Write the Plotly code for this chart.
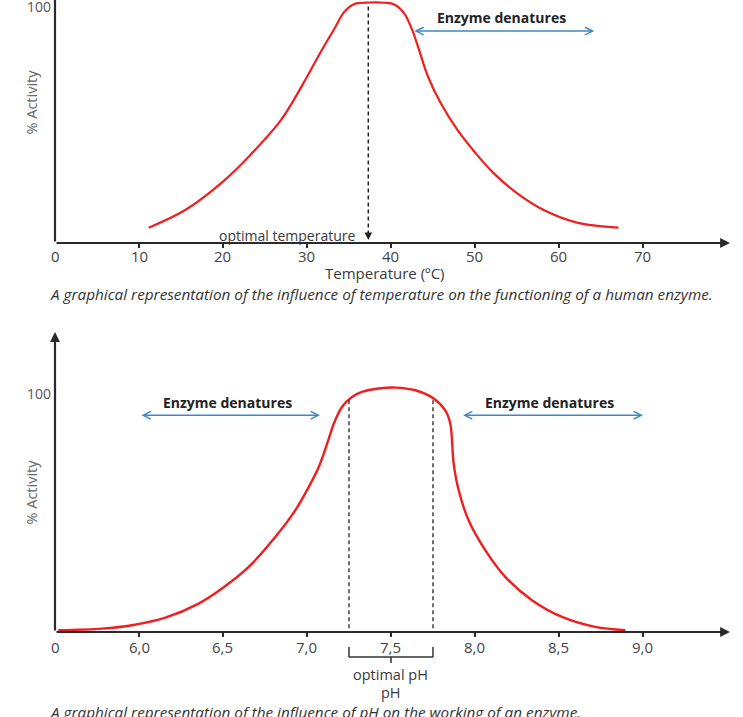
import plotly.graph_objects as go

# ---------------- data ----------------
temp_c = [11.15, 15.5, 19.96, 23.2, 26.96, 30.04, 31.7, 33.28, 34.46, 35.65, 37.5, 39.2, 40.4,
          41.57, 42.5, 43.35, 44.35, 45.93, 47.91, 50.08, 52.24, 55.03, 58.18, 62.14, 67.08]
temp_activity = [6.4, 13.75, 25.5, 36.5, 51.5, 69.5, 80.0, 89.4, 96.4, 99.6, 100.2, 100.1, 99.4,
                 95.7, 89.0, 80.4, 69.8, 58.2, 47.1, 37.4, 29.0, 20.7, 13.75, 8.5, 6.4]
temp_ticks = [0, 10, 20, 30, 40, 50, 60, 70]
temp_ticktext = ["0", "10", "20", "30", "40", "50", "60", "70"]
optimal_temp = 37.3

ph_values = [5.52, 5.78, 5.958, 6.157, 6.355, 6.494, 6.653, 6.811, 6.93, 7.01, 7.07, 7.12, 7.16,
             7.208, 7.268, 7.327, 7.427, 7.526, 7.645, 7.754, 7.823, 7.853, 7.873, 7.903, 7.962,
             8.061, 8.18, 8.339, 8.518, 8.716, 8.895]
ph_activity = [0.7, 1.4, 2.8, 5.9, 11.7, 17.9, 26.8, 39.1, 50.1, 59.7, 68.0, 77.6, 85.9,
               92.7, 96.8, 98.9, 100.3, 100.7, 99.6, 96.2, 91.3, 85.9, 69.4, 58.4, 46.0,
               33.7, 22.7, 13.1, 6.2, 2.1, 0.7]
ph_ticks = [5.5, 6.0, 6.5, 7.0, 7.5, 8.0, 8.5, 9.0]
ph_ticktext = ["0", "6,0", "6,5", "7,0", "7,5", "8,0", "8,5", "9,0"]
optimal_ph_low = 7.25
optimal_ph_high = 7.75
optimal_ph_mid = 7.5

# ---------------- layout helpers ----------------
W, H = 743, 717
def py(Y):
    return 1 - Y / H
def px(X):
    return X / W

FONT = "Open Sans"
AXC = "#2a2a2a"
RED = "#f01e1e"
BLUE = "#3f86c4"
TXT = "#3a3a3a"

x1_range = [0, 80.36]
y1_range = [0, 101.25]
x2_range = [5.5, 9.518]
y2_range = [0, 123.6]

fig = go.Figure()

fig.add_trace(go.Scatter(x=temp_c, y=temp_activity, mode="lines", xaxis="x", yaxis="y",
                         line=dict(color=RED, width=2.2, shape="spline", smoothing=1.0),
                         hoverinfo="skip", showlegend=False))
fig.add_trace(go.Scatter(x=[optimal_temp, optimal_temp], y=[98.5, 4], mode="lines",
                         xaxis="x", yaxis="y",
                         line=dict(color="#222", width=1.5, dash="4px,3px"),
                         hoverinfo="skip", showlegend=False))

fig.add_trace(go.Scatter(x=ph_values, y=ph_activity, mode="lines", xaxis="x2", yaxis="y2",
                         line=dict(color=RED, width=2.4, shape="spline", smoothing=0.9),
                         hoverinfo="skip", showlegend=False))
for xv in [optimal_ph_low, optimal_ph_high]:
    fig.add_trace(go.Scatter(x=[xv, xv], y=[95.5, 0], mode="lines", xaxis="x2", yaxis="y2",
                             line=dict(color="#333", width=1.4, dash="4px,3px"),
                             hoverinfo="skip", showlegend=False))

ann = []
# axes with arrows
ann.append(dict(x=x1_range[1], y=0, ax=0, ay=0, xref="x", yref="y", axref="x", ayref="y",
                showarrow=True, arrowhead=2, arrowsize=0.9, arrowwidth=2.2, arrowcolor=AXC, text=""))
ann.append(dict(x=0, y=y1_range[1], ax=0, ay=0, xref="x", yref="y", axref="x", ayref="y",
                showarrow=True, arrowhead=0, arrowwidth=2.2, arrowcolor=AXC, text=""))
ann.append(dict(x=x2_range[1], y=0, ax=x2_range[0], ay=0, xref="x2", yref="y2", axref="x2", ayref="y2",
                showarrow=True, arrowhead=2, arrowsize=0.9, arrowwidth=2.2, arrowcolor=AXC, text=""))
ann.append(dict(x=x2_range[0], y=y2_range[1], ax=x2_range[0], ay=0, xref="x2", yref="y2", axref="x2", ayref="y2",
                showarrow=True, arrowhead=2, arrowsize=0.9, arrowwidth=2.2, arrowcolor=AXC, text=""))

def label(**kw):
    d = dict(showarrow=False, yanchor="middle")
    d.update(kw)
    ann.append(d)

# tick labels
for v, t in zip(temp_ticks, temp_ticktext):
    label(x=v, y=py(256), xref="x", yref="paper", text=t,
          font=dict(family=FONT, size=15, color="#444"))
for v, t in zip(ph_ticks, ph_ticktext):
    label(x=v, y=py(646.5), xref="x2", yref="paper", text=t,
          font=dict(family=FONT, size=15, color="#444"))
label(x=px(53), y=py(6), xref="paper", yref="paper", text="100", xanchor="right",
      font=dict(family=FONT, size=14, color="#555"))
label(x=px(53), y=py(393), xref="paper", yref="paper", text="100", xanchor="right",
      font=dict(family=FONT, size=14, color="#555"))

# optimal temperature arrow
ann.append(dict(x=optimal_temp, y=1.3, ax=optimal_temp, ay=5, xref="x", yref="y", axref="x", ayref="y",
                showarrow=True, arrowhead=2, arrowsize=1, arrowwidth=1.5, arrowcolor="#222", text=""))
label(x=36.0, y=3.0, xref="x", yref="y", text="optimal temperature", xanchor="right",
      font=dict(family=FONT, size=14, color=TXT))

# enzyme denatures (top)
ann.append(dict(x=64.2, y=88.3, ax=42.6, ay=88.3, xref="x", yref="y", axref="x", ayref="y",
                showarrow=True, arrowhead=5, arrowside="end+start", arrowsize=1, arrowwidth=1.5,
                arrowcolor=BLUE, text=""))
label(x=53.2, y=93.9, xref="x", yref="y", text="<b>Enzyme denatures</b>",
      font=dict(family=FONT, size=14, color="#222"))

# enzyme denatures (bottom)
ann.append(dict(x=7.077, y=89.3, ax=6.006, ay=89.3, xref="x2", yref="y2", axref="x2", ayref="y2",
                showarrow=True, arrowhead=5, arrowside="end+start", arrowsize=1, arrowwidth=1.5,
                arrowcolor=BLUE, text=""))
label(x=6.527, y=94.4, xref="x2", yref="y2", text="<b>Enzyme denatures</b>",
      font=dict(family=FONT, size=14, color="#222"))
ann.append(dict(x=9.0, y=89.3, ax=7.92, ay=89.3, xref="x2", yref="y2", axref="x2", ayref="y2",
                showarrow=True, arrowhead=5, arrowside="end+start", arrowsize=1, arrowwidth=1.5,
                arrowcolor=BLUE, text=""))
label(x=8.446, y=94.4, xref="x2", yref="y2", text="<b>Enzyme denatures</b>",
      font=dict(family=FONT, size=14, color="#222"))

# axis titles and captions
label(x=39.3, y=py(273), xref="x", yref="paper", text="Temperature (ºC)",
      font=dict(family=FONT, size=15, color=TXT))
label(x=px(48), y=py(294), xref="paper", yref="paper", xanchor="left",
      text="<i>A graphical representation of the influence of temperature on the functioning of a human enzyme.</i>",
      font=dict(family=FONT, size=15.3, color="#333"))
label(x=px(19), y=py(102), xref="paper", yref="paper", text="% Activity", textangle=-90,
      font=dict(family=FONT, size=14.5, color="#666"))
label(x=px(19), y=py(492), xref="paper", yref="paper", text="% Activity", textangle=-90,
      font=dict(family=FONT, size=14.5, color="#666"))

label(x=optimal_ph_mid, y=py(674), xref="x2", yref="paper", text="optimal pH",
      font=dict(family=FONT, size=14.5, color=TXT))
label(x=optimal_ph_mid, y=py(692), xref="x2", yref="paper", text="pH",
      font=dict(family=FONT, size=14.5, color=TXT))
label(x=px(48), y=py(712), xref="paper", yref="paper", xanchor="left",
      text="<i>A graphical representation of the influence of pH on the working of an enzyme.</i>",
      font=dict(family=FONT, size=15.3, color="#333"))

# bracket for optimal pH
shapes = [
    dict(type="line", xref="x2", yref="paper", x0=optimal_ph_low, x1=optimal_ph_low, y0=py(647), y1=py(657),
         line=dict(color="#333", width=1.5)),
    dict(type="line", xref="x2", yref="paper", x0=optimal_ph_high, x1=optimal_ph_high, y0=py(647), y1=py(657),
         line=dict(color="#333", width=1.5)),
    dict(type="line", xref="x2", yref="paper", x0=optimal_ph_low, x1=optimal_ph_high, y0=py(657), y1=py(657),
         line=dict(color="#333", width=1.5)),
    dict(type="line", xref="x2", yref="paper", x0=optimal_ph_mid, x1=optimal_ph_mid, y0=py(657), y1=py(663),
         line=dict(color="#333", width=1.5)),
]

axis_common = dict(showgrid=False, zeroline=False, showline=False, fixedrange=True,
                   showticklabels=False)

fig.update_layout(
    width=W, height=H,
    margin=dict(l=0, r=0, t=0, b=0),
    paper_bgcolor="white", plot_bgcolor="white",
    showlegend=False,
    xaxis=dict(domain=[px(55), px(730)], range=x1_range, anchor="y",
               tickmode="array", tickvals=temp_ticks[1:],
               ticks="outside", ticklen=4, tickwidth=1.5, tickcolor=AXC, **axis_common),
    yaxis=dict(domain=[py(243), 1.0], range=y1_range, anchor="x", ticks="", **axis_common),
    xaxis2=dict(domain=[px(55), px(730)], range=x2_range, anchor="y2",
                tickmode="array", tickvals=ph_ticks[1:],
                ticks="outside", ticklen=4, tickwidth=1.5, tickcolor=AXC, **axis_common),
    yaxis2=dict(domain=[py(632), py(332)], range=y2_range, anchor="x2", ticks="", **axis_common),
    annotations=ann,
    shapes=shapes,
)

fig.write_html("out.html")
